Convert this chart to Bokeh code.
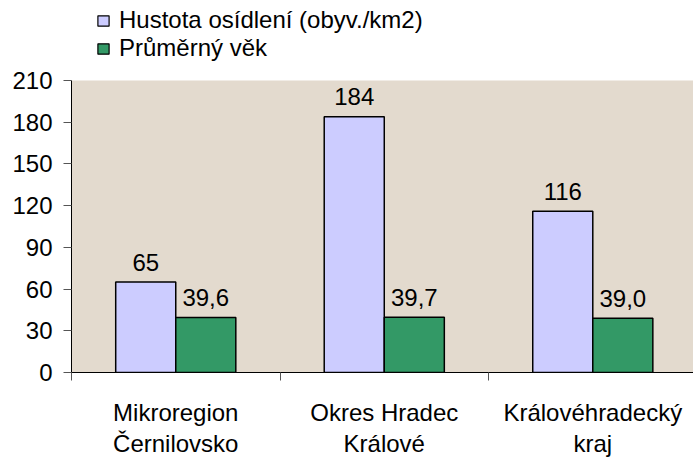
from bokeh.plotting import figure
from bokeh.layouts import column
from bokeh.models import ColumnDataSource, FixedTicker, Legend, LegendItem, Range1d
from bokeh.embed import file_html
from bokeh.resources import INLINE
from bokeh.core.properties import value

categories = ["Mikroregion\nČernilovsko", "Okres Hradec\nKrálové", "Královéhradecký\nkraj"]
hustota = [65, 184, 116]
vek = [39.6, 39.7, 39.0]
series_names = ["Hustota osídlení (obyv./km2)", "Průměrný věk"]
y_ticks = [0, 30, 60, 90, 120, 150, 180, 210]
colors = ["#CCCCFF", "#339966"]

FONT = "Liberation Sans"
FS = "24px"

centers = [i + 0.5 for i in range(len(categories))]
bw = 0.288
x1 = [c - bw / 2 for c in centers]
x2 = [c + bw / 2 for c in centers]

src = ColumnDataSource(dict(
    x1=x1, x2=x2, h=hustota, v=vek,
    hl=[str(v) for v in hustota],
    vl=[f"{v:.1f}".replace(".", ",") for v in vek],
))

# ---- legend strip (separate figure so the legend is not clipped) ----
lf = figure(width=693, height=68, output_backend="svg", toolbar_location=None,
            x_axis_location=None, y_axis_location=None,
            x_range=Range1d(10, 11), y_range=Range1d(10, 11),
            min_border_left=71, min_border_right=0, min_border_top=0, min_border_bottom=0)
lf.outline_line_color = None
lf.grid.visible = False
lf.background_fill_color = "white"
lr = [lf.vbar(x=[0], top=[1], bottom=[0], width=1, fill_color=c,
              line_color="black", line_width=1.2) for c in colors]
legend = Legend(items=[LegendItem(label=n, renderers=[r]) for n, r in zip(series_names, lr)],
                location=(25, 6), orientation="vertical")
legend.label_text_font = FONT
legend.label_text_font_size = FS
legend.label_text_color = "black"
legend.glyph_width = 14
legend.glyph_height = 13
legend.label_standoff = 9
legend.label_height = 26
legend.spacing = 0
legend.padding = 0
legend.margin = 0
legend.border_line_color = None
legend.background_fill_alpha = 0
lf.add_layout(legend)

# ---- main chart ----
p = figure(width=693, height=391, output_backend="svg", toolbar_location=None,
           x_range=Range1d(0, 2.983), y_range=Range1d(0, 210),
           min_border_left=71, min_border_top=12, min_border_bottom=85,
           min_border_right=0)
p.background_fill_color = "#E3DACE"
p.border_fill_color = "white"
p.outline_line_color = None
p.grid.visible = False

p.vbar(x="x1", top="h", width=bw, bottom=0, source=src,
       fill_color=colors[0], line_color="black", line_width=1.5)
p.vbar(x="x2", top="v", width=bw, bottom=0, source=src,
       fill_color=colors[1], line_color="black", line_width=1.5)

for xc, yc, tc in (("x1", "h", "hl"), ("x2", "v", "vl")):
    p.text(x=xc, y=yc, text=tc, source=src, text_align="center",
           text_baseline="alphabetic", y_offset=-20,
           text_font=value(FONT), text_font_size=FS, text_color="black")

ya = p.yaxis[0]
ya.ticker = FixedTicker(ticks=y_ticks)
ya.axis_line_color = "black"
ya.major_tick_line_color = "#555555"
ya.major_tick_out = 8
ya.major_tick_in = 0
ya.minor_tick_line_color = None
ya.major_label_text_font = FONT
ya.major_label_text_font_size = FS
ya.major_label_text_color = "black"
ya.major_label_standoff = 11

xa = p.xaxis[0]
xa.ticker = FixedTicker(ticks=centers, minor_ticks=list(range(len(categories) + 1)))
xa.major_label_overrides = {c: lab for c, lab in zip(centers, categories)}
xa.axis_line_color = "black"
xa.major_tick_line_color = None
xa.minor_tick_line_color = "#555555"
xa.minor_tick_out = 8
xa.minor_tick_in = 0
xa.major_label_text_font = FONT
xa.major_label_text_font_size = FS
xa.major_label_text_color = "black"
xa.major_label_text_line_height = 1.15
xa.major_label_standoff = 18

layout = column(lf, p, spacing=0)
open("out.html", "w").write(file_html(layout, INLINE))
